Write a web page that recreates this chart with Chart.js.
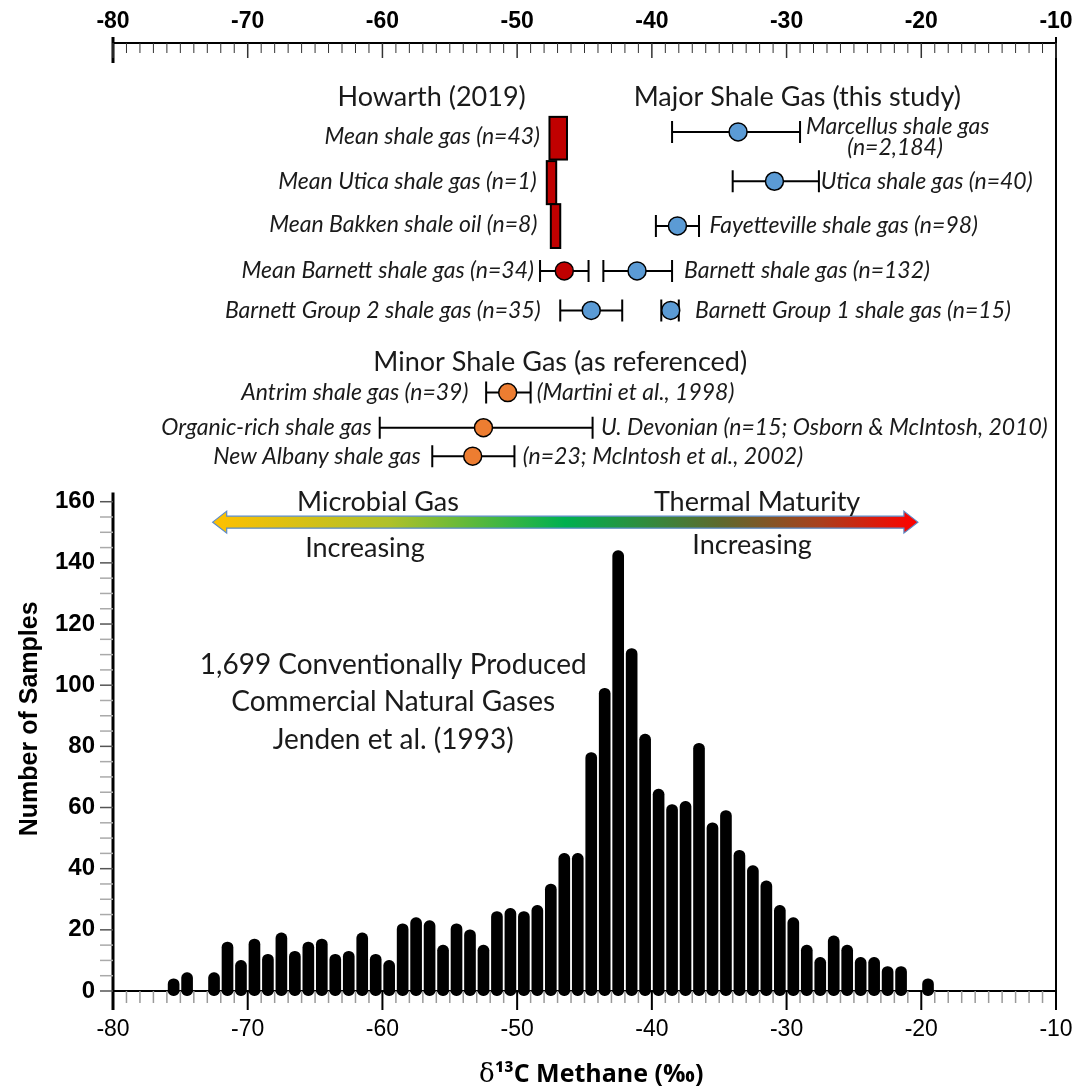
<!DOCTYPE html>
<html lang="en">
<head>
<meta charset="UTF-8">
<title>Methane carbon isotopes of shale gas vs conventional gas</title>
<script src="https://cdn.jsdelivr.net/npm/chart.js"></script>
<style>
  body { margin: 0; background: #fff; }
  #wrap { width: 1076px; height: 1088px; }
</style>
</head>
<body>
<div id="wrap"><canvas id="chart"></canvas></div>
<script>
// Jenden et al. (1993) histogram, 1 permil bins (bin centres)
const bins = [-75.5, -74.5, -72.5, -71.5, -70.5, -69.5, -68.5, -67.5, -66.5, -65.5,
              -64.5, -63.5, -62.5, -61.5, -60.5, -59.5, -58.5, -57.5, -56.5, -55.5,
              -54.5, -53.5, -52.5, -51.5, -50.5, -49.5, -48.5, -47.5, -46.5, -45.5,
              -44.5, -43.5, -42.5, -41.5, -40.5, -39.5, -38.5, -37.5, -36.5, -35.5,
              -34.5, -33.5, -32.5, -31.5, -30.5, -29.5, -28.5, -27.5, -26.5, -25.5,
              -24.5, -23.5, -22.5, -21.5, -19.5];
const counts = [4, 6, 6, 16, 10, 17, 12, 19, 13, 16,
                17, 12, 13, 19, 12, 10, 22, 24, 23, 15,
                22, 20, 15, 26, 27, 26, 28, 35, 45, 45,
                78, 99, 144, 112, 84, 66, 61, 62, 81, 55,
                59, 46, 41, 36, 28, 24, 15, 11, 18, 15,
                11, 11, 8, 8, 4];

// Howarth (2019) values, shown as boxes (permil range, row range)
const howarthLow = [-47.6, -47.8, -47.5];
const howarthHigh = [-46.3, -47.1, -46.8];
const howarthRowTop = [1.87, 2.99, 4.08];
const howarthRowBottom = [2.95, 4.08, 5.19];

// means with ranges
const groupNames = ['Marcellus', 'Utica', 'Fayetteville', 'Barnett', 'Barnett Group 1',
                    'Barnett Group 2', 'Mean Barnett (Howarth)', 'Antrim', 'Organic-rich U. Devonian', 'New Albany'];
const groupMean = [-33.6, -30.9, -38.1, -41.1, -38.6, -44.5, -46.5, -50.7, -52.5, -53.3];
const groupLow  = [-38.5, -34.0, -39.7, -43.6, -39.3, -46.8, -48.3, -52.3, -60.2, -56.3];
const groupHigh = [-29.0, -27.6, -36.5, -38.5, -38.0, -42.2, -44.7, -49.0, -44.4, -50.2];
const groupRow  = [2.25, 3.5, 4.63, 5.77, 6.77, 6.77, 5.77, 8.85, 9.74, 10.46];
const groupKind = ['major', 'major', 'major', 'major', 'major', 'major', 'howarth', 'minor', 'minor', 'minor'];

const kindColor = { major: '#5B9BD5', howarth: '#C00000', minor: '#ED7D31' };

// text placed on the plot: [text, permil, row, align, style]
const notes = [
  ['Howarth (2019)', -56.35, 1.37, 'center', 'head'],
  ['Major Shale Gas (this study)', -29.2, 1.37, 'center', 'head'],
  ['Mean shale gas (n=43)', -48.3, 2.38, 'right', 'item'],
  ['Mean Utica shale gas (n=1)', -48.55, 3.52, 'right', 'item'],
  ['Mean Bakken shale oil (n=8)', -48.5, 4.6, 'right', 'item'],
  ['Mean Barnett shale gas (n=34)', -48.75, 5.77, 'right', 'item'],
  ['Barnett Group 2 shale gas (n=35)', -48.25, 6.77, 'right', 'item'],
  ['Marcellus shale gas', -28.55, 2.12, 'left', 'item'],
  ['(n=2,184)', -21.95, 2.66, 'center', 'item'],
  ['Utica shale gas (n=40)', -27.46, 3.5, 'left', 'item'],
  ['Fayetteville shale gas (n=98)', -35.73, 4.63, 'left', 'item'],
  ['Barnett shale gas (n=132)', -37.61, 5.77, 'left', 'item'],
  ['Barnett Group 1 shale gas (n=15)', -36.79, 6.77, 'left', 'item'],
  ['Minor Shale Gas (as referenced)', -46.8, 8.08, 'center', 'head'],
  ['Antrim shale gas (n=39)', -53.62, 8.85, 'right', 'item'],
  ['(Martini et al., 1998)', -48.55, 8.85, 'left', 'item'],
  ['Organic-rich shale gas', -60.79, 9.74, 'right', 'item'],
  ['U. Devonian (n=15; Osborn & McIntosh, 2010)', -43.77, 9.74, 'left', 'item'],
  ['New Albany shale gas', -57.16, 10.46, 'right', 'item'],
  ['(n=23; McIntosh et al., 2002)', -49.58, 10.46, 'left', 'item'],
  ['Microbial Gas', -60.33, 11.63, 'center', 'arrow'],
  ['Increasing', -61.3, 12.79, 'center', 'arrow'],
  ['Thermal Maturity', -32.19, 11.63, 'center', 'arrow'],
  ['Increasing', -32.56, 12.72, 'center', 'arrow'],
  ['1,699 Conventionally Produced', -59.2, 15.75, 'center', 'big'],
  ['Commercial Natural Gases', -59.2, 16.69, 'center', 'big'],
  ['Jenden et al. (1993)', -59.2, 17.65, 'center', 'big']
];
const noteFont = {
  head: 'normal 27px Lato',
  item: 'italic 23px Lato',
  arrow: 'normal 27px Lato',
  big: 'normal 28px Lato'
};

// gradient arrow: permil from/to, row
const arrowFrom = -72.6, arrowTo = -20.25, arrowRow = 12.13;

const overlay = {
  id: 'overlay',
  beforeDatasetsDraw(chart) {
    const ctx = chart.ctx;
    const xs = chart.scales.x, rs = chart.scales.yRow;
    ctx.save();

    // Howarth boxes
    howarthLow.forEach((lo, i) => {
      const x0 = xs.getPixelForValue(lo), x1 = xs.getPixelForValue(howarthHigh[i]);
      const y0 = rs.getPixelForValue(howarthRowTop[i]), y1 = rs.getPixelForValue(howarthRowBottom[i]);
      ctx.fillStyle = '#C00000';
      ctx.fillRect(x0, y0, x1 - x0, y1 - y0);
      ctx.strokeStyle = '#000';
      ctx.lineWidth = 2;
      ctx.strokeRect(x0, y0, x1 - x0, y1 - y0);
    });

    // range bars
    ctx.strokeStyle = '#000';
    ctx.lineWidth = 2;
    groupMean.forEach((m, i) => {
      const a = xs.getPixelForValue(groupLow[i]), b = xs.getPixelForValue(groupHigh[i]);
      const y = rs.getPixelForValue(groupRow[i]);
      ctx.beginPath();
      ctx.moveTo(a, y); ctx.lineTo(b, y);
      ctx.moveTo(a, y - 11); ctx.lineTo(a, y + 11);
      ctx.moveTo(b, y - 11); ctx.lineTo(b, y + 11);
      ctx.stroke();
    });

    // gradient arrow
    const ax0 = xs.getPixelForValue(arrowFrom), ax1 = xs.getPixelForValue(arrowTo);
    const ay = rs.getPixelForValue(arrowRow);
    const head = 14, hs = 6, hh = 11;
    const g = ctx.createLinearGradient(ax0, 0, ax1, 0);
    g.addColorStop(0, '#FFC000');
    g.addColorStop(0.25, '#AFC12A');
    g.addColorStop(0.5, '#00B050');
    g.addColorStop(0.72, '#5E6A2E');
    g.addColorStop(0.86, '#A8401E');
    g.addColorStop(1, '#FF0000');
    ctx.beginPath();
    ctx.moveTo(ax0, ay);
    ctx.lineTo(ax0 + head, ay - hh);
    ctx.lineTo(ax0 + head, ay - hs);
    ctx.lineTo(ax1 - head, ay - hs);
    ctx.lineTo(ax1 - head, ay - hh);
    ctx.lineTo(ax1, ay);
    ctx.lineTo(ax1 - head, ay + hh);
    ctx.lineTo(ax1 - head, ay + hs);
    ctx.lineTo(ax0 + head, ay + hs);
    ctx.lineTo(ax0 + head, ay + hh);
    ctx.closePath();
    ctx.fillStyle = g;
    ctx.fill();
    ctx.strokeStyle = '#5B8BC8';
    ctx.lineWidth = 1.2;
    ctx.stroke();

    // text
    ctx.fillStyle = '#1a1a1a';
    ctx.textBaseline = 'middle';
    notes.forEach(([t, v, row, align, style]) => {
      ctx.font = noteFont[style];
      ctx.textAlign = align;
      ctx.fillText(t, xs.getPixelForValue(v), rs.getPixelForValue(row));
    });
    ctx.restore();
  },
  afterDraw(chart) {
    const ctx = chart.ctx;
    const xs = chart.scales.x, ys = chart.scales.y;
    const {left, right, top, bottom} = chart.chartArea;
    ctx.save();
    ctx.lineCap = 'butt';

    // frame lines
    ctx.strokeStyle = '#000';
    ctx.lineWidth = 2;
    ctx.beginPath();
    ctx.moveTo(left, top); ctx.lineTo(right, top);
    ctx.moveTo(right, top - 6); ctx.lineTo(right, bottom);
    ctx.moveTo(left, bottom); ctx.lineTo(right, bottom);
    ctx.stroke();
    ctx.lineWidth = 3;
    ctx.beginPath();
    ctx.moveTo(left, top - 6); ctx.lineTo(left, top + 20);
    ctx.moveTo(left, ys.getPixelForValue(163)); ctx.lineTo(left, bottom + 19);
    ctx.stroke();

    // x ticks, bottom and top
    for (let v = -80; v <= -10; v++) {
      const px = xs.getPixelForValue(v);
      const major = v % 10 === 0;
      ctx.beginPath();
      ctx.strokeStyle = major ? '#000' : '#9a9a9a';
      ctx.lineWidth = major ? 2 : 1.5;
      ctx.moveTo(px, bottom); ctx.lineTo(px, bottom + (major ? 19 : 12));
      ctx.stroke();
      ctx.beginPath();
      ctx.strokeStyle = '#333';
      ctx.lineWidth = major ? 1.5 : 1;
      ctx.moveTo(px, top); ctx.lineTo(px, top + (major ? 15 : 10));
      ctx.stroke();
    }
    // y ticks
    for (let v = 0; v <= 160; v += 5) {
      const py = ys.getPixelForValue(v);
      const major = v % 20 === 0;
      ctx.beginPath();
      ctx.strokeStyle = major ? '#555' : '#aaa';
      ctx.lineWidth = 1.5;
      ctx.moveTo(left - 13, py); ctx.lineTo(left, py);
      ctx.stroke();
    }

    // axis titles
    ctx.fillStyle = '#000';
    ctx.textBaseline = 'middle';
    ctx.save();
    ctx.translate(30, ys.getPixelForValue(89));
    ctx.rotate(-Math.PI / 2);
    ctx.textAlign = 'center';
    ctx.font = 'bold 25px Arial';
    ctx.fillText('Number of Samples', 0, 0);
    ctx.restore();

    const cx = xs.getPixelForValue(-44.5), cy = 1075;
    const parts = [['δ', 'normal 26px "DejaVu Serif"', 0], ['¹³', 'bold 25px "Open Sans"', 0], ['C Methane (‰)', 'bold 25px "Open Sans"', 0]];
    let total = 0;
    parts.forEach(p => { ctx.font = p[1]; p[2] = ctx.measureText(p[0]).width; total += p[2]; });
    let px = cx - total / 2;
    ctx.textAlign = 'left';
    parts.forEach(p => { ctx.font = p[1]; ctx.fillText(p[0], px, cy); px += p[2]; });
    ctx.restore();
  }
};

function noSidePadding(s) {
  s.paddingLeft = 0;
  s.paddingRight = 0;
}

new Chart(document.getElementById('chart'), {
  data: {
    datasets: [
      {
        type: 'bar',
        label: 'Number of samples',
        data: bins.map((b, i) => ({ x: b, y: counts[i] })),
        xAxisID: 'x',
        yAxisID: 'y',
        backgroundColor: '#000',
        barThickness: 11,
        borderRadius: 5.5,
        borderSkipped: false,
        base: -1.5,
        clip: false,
        order: 2
      },
      {
        type: 'scatter',
        label: 'Shale gas means',
        data: groupMean.map((m, i) => ({ x: m, y: groupRow[i] })),
        xAxisID: 'x',
        yAxisID: 'yRow',
        pointRadius: 9,
        pointBackgroundColor: groupKind.map(k => kindColor[k]),
        pointBorderColor: '#000',
        pointBorderWidth: 1.5,
        order: 0
      }
    ]
  },
  options: {
    responsive: true,
    maintainAspectRatio: false,
    animation: false,
    layout: { padding: { left: 0, right: 20, top: 0, bottom: 0 } },
    plugins: { legend: { display: false }, tooltip: { enabled: false } },
    scales: {
      x: {
        type: 'linear', position: 'bottom', min: -80, max: -10, offset: false,
        grid: { display: false, drawTicks: false }, border: { display: false },
        ticks: { stepSize: 10, color: '#000', padding: 25, font: { family: 'Arial', size: 23 } },
        afterFit(s) { s.height = 97; noSidePadding(s); }
      },
      x2: {
        type: 'linear', position: 'top', min: -80, max: -10, offset: false,
        grid: { display: false, drawTicks: false }, border: { display: false },
        ticks: { stepSize: 10, color: '#000', padding: 8, font: { family: 'Arial', size: 23, weight: 'bold' } },
        afterFit(s) { s.height = 43; noSidePadding(s); }
      },
      y: {
        type: 'linear', position: 'left', min: 0, max: 310,
        grid: { display: false, drawTicks: false }, border: { display: false },
        afterBuildTicks(s) { s.ticks = [0, 20, 40, 60, 80, 100, 120, 140, 160].map(v => ({ value: v })); },
        ticks: { color: '#000', padding: 18, font: { family: 'Arial', size: 24, weight: 'bold' } },
        afterFit(s) { s.width = 113; }
      },
      yRow: { axis: 'y', type: 'linear', display: false, reverse: true, min: 0, max: 24 }
    }
  },
  plugins: [overlay]
});
</script>
</body>
</html>
